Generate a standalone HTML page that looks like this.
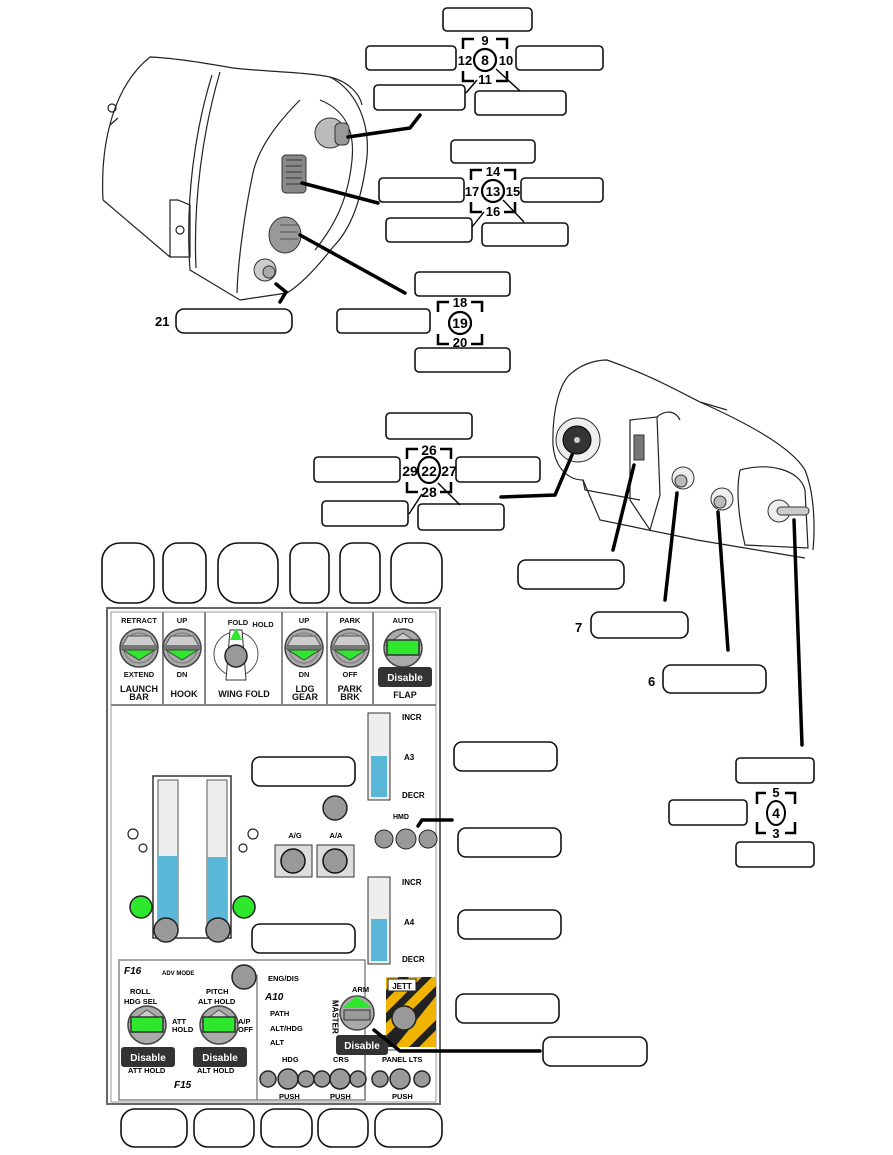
<!DOCTYPE html>
<html><head><meta charset="utf-8"><style>
html,body{margin:0;padding:0;background:#fff}
svg{display:block}
text{font-family:"Liberation Sans",sans-serif;font-weight:bold}
.b{fill:#fff;stroke:#111;stroke-width:1.6}
.ln{fill:none;stroke:#000;stroke-width:3.5;stroke-linecap:round}
.th{fill:none;stroke:#000;stroke-width:1.4}
.o{fill:none;stroke:#222;stroke-width:1.2}
</style></head><body>
<svg width="893" height="1155" viewBox="0 0 893 1155" xmlns="http://www.w3.org/2000/svg">
<defs>
<g id="cl">
<path d="M-22,-11V-21H-11M11,-21H22V-11M-22,11V21H-11M11,21H22V11" fill="none" stroke="#000" stroke-width="2.5"/>
<circle r="11" fill="#fff" stroke="#000" stroke-width="2.2"/>
</g>
<g id="knob">
<circle r="19" fill="#aaa" stroke="#444" stroke-width="1.5"/>
<circle r="15" fill="none" stroke="#777"/>
<path d="M-17,-2H17L11,-12H-11Z" fill="#ccc" stroke="#555"/>
<rect x="-18" y="-3" width="36" height="5" fill="#777"/>
<path d="M-16,2H16L0,12Z" fill="#2ee82e" stroke="#444"/>
</g>
<g id="knob2">
<circle r="19" fill="#aaa" stroke="#444" stroke-width="1.5"/>
<path d="M-17,-3L0,-15L17,-3Z" fill="#ccc" stroke="#555"/>
<rect x="-16" y="-8" width="32" height="15" fill="#2ee82e" stroke="#333" stroke-width="1.5"/>
</g>
</defs>

<!-- Top device -->
<g class="o">
<path d="M103,200 C100,140 115,85 150,57 C175,58 205,63 233,68"/>
<path d="M103,200 L170,257 M170,200 L170,257 L190,257 L190,205 L178,200 Z"/>
<path d="M212,75 C195,130 185,200 190,270 L240,300"/>
<path d="M220,72 C203,130 193,200 196,268"/>
<path d="M233,68 C270,72 305,72 330,77 C350,82 360,95 362,105"/>
<path d="M330,77 C355,90 370,120 367,157 C362,200 350,230 333,247 C315,270 300,285 287,293 L240,300"/>
<path d="M300,100 C275,125 258,150 253,173 C245,210 238,260 237,293"/>
<path d="M320,100 C345,110 355,130 352,160 C348,200 335,225 315,250"/>
<path d="M110,125 L118,118"/>
</g>
<circle cx="112" cy="108" r="4" class="o"/>
<circle cx="180" cy="230" r="4" class="o"/>
<circle cx="330" cy="133" r="15" fill="#bbb" stroke="#333"/>
<rect x="335" y="123" width="14" height="22" rx="5" fill="#999" stroke="#333"/>
<rect x="282" y="155" width="24" height="38" rx="4" fill="#888" stroke="#333"/>
<path d="M286,160H302M286,166H302M286,172H302M286,178H302M286,184H302" stroke="#333"/>
<ellipse cx="285" cy="235" rx="16" ry="18" fill="#999" stroke="#333"/>
<path d="M280,225H298M280,232H298M280,239H298" stroke="#555"/>
<circle cx="265" cy="270" r="11" fill="#ccc" stroke="#333"/>
<circle cx="269" cy="272" r="6" fill="#aaa" stroke="#333"/>

<path class="ln" d="M348,137 L410,128 L420,115"/>
<path class="ln" d="M302,183 L378,203"/>
<path class="ln" d="M300,235 L405,293"/>
<path class="ln" d="M276,284 L286,292 L280,302"/>

<!-- top labels -->
<rect class="b" x="443" y="8" width="89" height="23" rx="4"/>
<rect class="b" x="366" y="46" width="90" height="24" rx="4"/>
<rect class="b" x="516" y="46" width="87" height="24" rx="4"/>
<rect class="b" x="374" y="85" width="91" height="25" rx="4"/>
<rect class="b" x="475" y="91" width="91" height="24" rx="4"/>
<use href="#cl" x="485" y="60"/>
<text x="485" y="65" font-size="14" text-anchor="middle">8</text>
<text x="485" y="45" font-size="13" text-anchor="middle">9</text>
<text x="485" y="84" font-size="13" text-anchor="middle">11</text>
<text x="465" y="65" font-size="13" text-anchor="middle">12</text>
<text x="506" y="65" font-size="13" text-anchor="middle">10</text>
<path class="th" d="M477,80 L466,93 M496,69 L520,91"/>

<rect class="b" x="451" y="140" width="84" height="23" rx="4"/>
<rect class="b" x="379" y="178" width="85" height="24" rx="4"/>
<rect class="b" x="521" y="178" width="82" height="24" rx="4"/>
<rect class="b" x="386" y="218" width="86" height="24" rx="4"/>
<rect class="b" x="482" y="223" width="86" height="23" rx="4"/>
<use href="#cl" x="493" y="191"/>
<text x="493" y="196" font-size="13" text-anchor="middle">13</text>
<text x="493" y="176" font-size="13" text-anchor="middle">14</text>
<text x="493" y="216" font-size="13" text-anchor="middle">16</text>
<text x="472" y="196" font-size="13" text-anchor="middle">17</text>
<text x="513" y="196" font-size="13" text-anchor="middle">15</text>
<path class="th" d="M484,212 L472,227 M503,200 L524,222"/>

<rect class="b" x="415" y="272" width="95" height="24" rx="4"/>
<rect class="b" x="337" y="309" width="93" height="24" rx="4"/>
<rect class="b" x="415" y="348" width="95" height="24" rx="4"/>
<use href="#cl" x="460" y="323"/>
<text x="460" y="328" font-size="14" text-anchor="middle">19</text>
<text x="460" y="307" font-size="13" text-anchor="middle">18</text>
<text x="460" y="347" font-size="13" text-anchor="middle">20</text>

<rect class="b" x="176" y="309" width="116" height="24" rx="8"/>
<text x="155" y="326" font-size="13">21</text>

<!-- second device -->
<g class="o">
<path d="M553,445 C552,410 560,380 573,372 C585,362 600,360 607,360 C650,375 680,392 700,402 L727,410"/>
<path d="M700,402 C740,420 790,445 805,470 C815,495 815,530 813,550"/>
<path d="M553,445 C555,470 570,480 583,480 L600,520 L697,540 L805,558"/>
<path d="M583,480 L585,490 L640,500"/>
<path d="M740,470 C770,462 800,470 805,490 L808,548 L745,545 C738,515 736,490 740,470"/>
<path d="M630,420 L657,417 L660,495 L650,530 L630,500 Z"/>
<path d="M657,417 C665,410 675,410 680,420"/>
</g>
<circle cx="578" cy="440" r="22" fill="#eee" stroke="#333"/>
<circle cx="577" cy="440" r="14" fill="#333" stroke="#000"/>
<circle cx="577" cy="440" r="3" fill="#ccc"/>
<rect x="634" y="435" width="10" height="25" fill="#777" stroke="#333"/>
<circle cx="683" cy="478" r="11" fill="#eee" stroke="#333"/><circle cx="681" cy="481" r="6" fill="#bbb" stroke="#333"/>
<circle cx="722" cy="499" r="11" fill="#eee" stroke="#333"/><circle cx="720" cy="502" r="6" fill="#bbb" stroke="#333"/>
<circle cx="779" cy="511" r="11" fill="#eee" stroke="#333"/>
<rect x="777" y="507" width="32" height="8" rx="4" fill="#ccc" stroke="#333"/>

<path class="ln" d="M572,455 L555,495 L501,497"/>
<path class="ln" d="M634,465 L613,550"/>
<path class="ln" d="M677,493 L665,600"/>
<path class="ln" d="M718,512 L728,650"/>
<path class="ln" d="M794,520 L802,745"/>

<rect class="b" x="386" y="413" width="86" height="26" rx="4"/>
<rect class="b" x="314" y="457" width="86" height="25" rx="4"/>
<rect class="b" x="456" y="457" width="84" height="25" rx="4"/>
<rect class="b" x="322" y="501" width="86" height="25" rx="4"/>
<rect class="b" x="418" y="504" width="86" height="26" rx="4"/>
<path d="M407,459V449H418M440,449H451V459M407,482V492H418M440,492H451V482" fill="none" stroke="#000" stroke-width="2.5"/>
<ellipse cx="429" cy="470" rx="11" ry="13" fill="#fff" stroke="#000" stroke-width="2.2"/>
<text x="429" y="476" font-size="14" text-anchor="middle">22</text>
<text x="429" y="455" font-size="14" text-anchor="middle">26</text>
<text x="429" y="497" font-size="14" text-anchor="middle">28</text>
<text x="410" y="476" font-size="14" text-anchor="middle">29</text>
<text x="449" y="476" font-size="14" text-anchor="middle">27</text>
<path class="th" d="M422,494 L409,514 M438,483 L460,505"/>

<rect class="b" x="518" y="560" width="106" height="29" rx="8"/>
<rect class="b" x="591" y="612" width="97" height="26" rx="8"/>
<text x="575" y="632" font-size="13">7</text>
<rect class="b" x="663" y="665" width="103" height="28" rx="8"/>
<text x="648" y="686" font-size="13">6</text>

<rect class="b" x="736" y="758" width="78" height="25" rx="4"/>
<rect class="b" x="669" y="800" width="78" height="25" rx="4"/>
<rect class="b" x="736" y="842" width="78" height="25" rx="4"/>
<path d="M757,804V793H766M785,793H795V804M757,822V833H766M785,833H795V822" fill="none" stroke="#000" stroke-width="2.5"/>
<ellipse cx="776" cy="813" rx="9" ry="12" fill="#fff" stroke="#000" stroke-width="2"/>
<text x="776" y="818" font-size="14" text-anchor="middle">4</text>
<text x="776" y="797" font-size="13" text-anchor="middle">5</text>
<text x="776" y="838" font-size="13" text-anchor="middle">3</text>

<!-- panel ovals -->
<g class="b" stroke-width="2">
<rect x="102" y="543" width="52" height="60" rx="18"/>
<rect x="163" y="543" width="43" height="60" rx="15"/>
<rect x="218" y="543" width="60" height="60" rx="20"/>
<rect x="290" y="543" width="39" height="60" rx="13"/>
<rect x="340" y="543" width="40" height="60" rx="13"/>
<rect x="391" y="543" width="51" height="60" rx="18"/>
<rect x="121" y="1109" width="66" height="38" rx="14"/>
<rect x="194" y="1109" width="60" height="38" rx="14"/>
<rect x="261" y="1109" width="51" height="38" rx="14"/>
<rect x="318" y="1109" width="50" height="38" rx="14"/>
<rect x="375" y="1109" width="67" height="38" rx="14"/>
</g>

<!-- panel -->
<rect x="107" y="608" width="333" height="496" fill="#fff" stroke="#666" stroke-width="2"/>
<rect x="111" y="612" width="325" height="490" fill="none" stroke="#999"/>
<path d="M111,705H436 M163,612V705 M205,612V705 M282,612V705 M327,612V705 M373,612V705" stroke="#888" stroke-width="2"/>
<g font-size="7.5" text-anchor="middle" fill="#111">
<text x="139" y="623">RETRACT</text><text x="182" y="623">UP</text><text x="304" y="623">UP</text><text x="350" y="623">PARK</text><text x="403" y="623">AUTO</text>
<text x="139" y="677">EXTEND</text><text x="182" y="677">DN</text><text x="304" y="677">DN</text><text x="350" y="677">OFF</text>
<text x="139" y="692" font-size="9">LAUNCH</text><text x="139" y="700" font-size="9">BAR</text>
<text x="184" y="697" font-size="9">HOOK</text><text x="244" y="697" font-size="9">WING FOLD</text>
<text x="305" y="692" font-size="9">LDG</text><text x="305" y="700" font-size="9">GEAR</text>
<text x="350" y="692" font-size="9">PARK</text><text x="350" y="700" font-size="9">BRK</text>
<text x="405" y="698" font-size="9">FLAP</text>
<text x="238" y="625">FOLD</text><text x="263" y="627">HOLD</text>
</g>
<use href="#knob" x="139" y="648"/><use href="#knob" x="182" y="648"/>
<use href="#knob" x="304" y="648"/><use href="#knob" x="350" y="648"/>
<use href="#knob2" x="403" y="648"/>
<circle cx="236" cy="654" r="22" fill="none" stroke="#555"/>
<path d="M230,630L242,630L246,680L226,680Z" fill="#fff" stroke="#333"/>
<path d="M236,628L242,640H230Z" fill="#2ee82e"/>
<circle cx="236" cy="656" r="11" fill="#999" stroke="#222" stroke-width="1.5"/>
<rect x="378" y="667" width="54" height="20" rx="3" fill="#333"/>
<text x="405" y="681" font-size="10" fill="#fff" text-anchor="middle" font-weight="normal">Disable</text>

<!-- middle -->
<rect x="153" y="776" width="78" height="162" fill="#fff" stroke="#333" stroke-width="1.5"/>
<rect x="158" y="780" width="20" height="153" fill="#eee" stroke="#555"/>
<rect x="158" y="856" width="20" height="77" fill="#5bb7d8"/>
<rect x="207" y="780" width="20" height="153" fill="#eee" stroke="#555"/>
<rect x="207" y="857" width="20" height="76" fill="#5bb7d8"/>
<circle cx="166" cy="930" r="12" fill="#999" stroke="#222" stroke-width="1.5"/>
<circle cx="218" cy="930" r="12" fill="#999" stroke="#222" stroke-width="1.5"/>
<circle cx="141" cy="907" r="11" fill="#2ee82e" stroke="#222" stroke-width="1.5"/>
<circle cx="244" cy="907" r="11" fill="#2ee82e" stroke="#222" stroke-width="1.5"/>
<circle cx="133" cy="834" r="5" class="o"/><circle cx="143" cy="848" r="4" class="o"/>
<circle cx="253" cy="834" r="5" class="o"/><circle cx="243" cy="848" r="4" class="o"/>
<rect class="b" x="252" y="757" width="103" height="29" rx="8"/>
<rect class="b" x="252" y="924" width="103" height="29" rx="8"/>
<circle cx="335" cy="808" r="12" fill="#999" stroke="#222" stroke-width="1.5"/>
<text x="295" y="838" font-size="7.5" text-anchor="middle">A/G</text><text x="336" y="838" font-size="7.5" text-anchor="middle">A/A</text>
<rect x="275" y="845" width="37" height="32" fill="#ddd" stroke="#333"/>
<rect x="317" y="845" width="37" height="32" fill="#ddd" stroke="#333"/>
<circle cx="293" cy="861" r="12" fill="#999" stroke="#111" stroke-width="1.5"/>
<circle cx="335" cy="861" r="12" fill="#999" stroke="#111" stroke-width="1.5"/>
<rect x="368" y="713" width="22" height="87" fill="#eee" stroke="#333"/>
<rect x="371" y="756" width="16" height="41" fill="#5bb7d8"/>
<rect x="368" y="877" width="22" height="87" fill="#eee" stroke="#333"/>
<rect x="371" y="919" width="16" height="42" fill="#5bb7d8"/>
<g font-size="8"><text x="402" y="720">INCR</text><text x="404" y="760">A3</text><text x="402" y="798">DECR</text>
<text x="402" y="885">INCR</text><text x="404" y="925">A4</text><text x="402" y="962">DECR</text>
<text x="393" y="819" font-size="7">HMD</text></g>
<circle cx="384" cy="839" r="9" fill="#999" stroke="#222"/><circle cx="406" cy="839" r="10" fill="#999" stroke="#222"/><circle cx="428" cy="839" r="9" fill="#999" stroke="#222"/>
<path class="ln" d="M418,826 L422,820 L452,820" stroke-width="3"/>
<rect class="b" x="454" y="742" width="103" height="29" rx="8"/>
<rect class="b" x="458" y="828" width="103" height="29" rx="8"/>
<rect class="b" x="458" y="910" width="103" height="29" rx="8"/>
<rect class="b" x="456" y="994" width="103" height="29" rx="8"/>
<rect class="b" x="543" y="1037" width="104" height="29" rx="8"/>

<!-- lower panel -->
<rect x="119" y="960" width="246" height="140" fill="none" stroke="#888" stroke-width="1.5"/>
<path d="M257,975V1100 M365,1050H436 M365,1050V1100" stroke="#888" stroke-width="1.5"/>
<text x="124" y="974" font-size="10" font-style="italic">F16</text>
<text x="162" y="975" font-size="6">ADV MODE</text>
<circle cx="244" cy="977" r="12" fill="#999" stroke="#222" stroke-width="1.5"/>
<g font-size="7.5"><text x="268" y="981">ENG/DIS</text><text x="265" y="1000" font-size="10" font-style="italic">A10</text>
<text x="270" y="1016">PATH</text><text x="270" y="1031">ALT/HDG</text><text x="270" y="1045">ALT</text>
<text x="130" y="994">ROLL</text><text x="124" y="1004">HDG SEL</text><text x="206" y="994">PITCH</text><text x="198" y="1004">ALT HOLD</text>
<text x="172" y="1024">ATT</text><text x="172" y="1032">HOLD</text><text x="238" y="1024">A/P</text><text x="238" y="1032">OFF</text>
<text x="282" y="1062">HDG</text><text x="333" y="1062">CRS</text><text x="382" y="1062">PANEL LTS</text>
<text x="279" y="1099">PUSH</text><text x="330" y="1099">PUSH</text><text x="392" y="1099">PUSH</text>
<text x="352" y="992">ARM</text><text x="128" y="1073">ATT HOLD</text><text x="197" y="1073">ALT HOLD</text>
<text x="174" y="1088" font-size="10" font-style="italic">F15</text></g>
<text x="335" y="1000" font-size="8" writing-mode="tb">MASTER</text>
<use href="#knob2" x="147" y="1025"/><use href="#knob2" x="219" y="1025"/>
<circle cx="357" cy="1013" r="17" fill="#aaa" stroke="#444" stroke-width="1.5"/>
<path d="M342,1008L357,996L372,1008Z" fill="#2ee82e"/>
<rect x="344" y="1010" width="26" height="10" fill="#999" stroke="#333"/>
<rect x="386" y="977" width="50" height="70" fill="#f0b400"/>
<path d="M386,990L399,977H409L386,1000ZM386,1013L422,977H432L386,1023ZM386,1036L436,986V996L395,1047H386ZM409,1047L436,1020V1030L419,1047Z" fill="#222"/>
<rect x="388" y="979" width="28" height="12" fill="#fff" stroke="#222"/>
<text x="402" y="989" font-size="8" text-anchor="middle">JETT</text>
<circle cx="404" cy="1018" r="12" fill="#999" stroke="#222" stroke-width="1.5"/>
<rect x="121" y="1047" width="54" height="20" rx="3" fill="#333"/>
<text x="148" y="1061" font-size="10" fill="#fff" text-anchor="middle" font-weight="normal">Disable</text>
<rect x="193" y="1047" width="54" height="20" rx="3" fill="#333"/>
<text x="220" y="1061" font-size="10" fill="#fff" text-anchor="middle" font-weight="normal">Disable</text>
<rect x="336" y="1035" width="52" height="20" rx="3" fill="#333"/>
<text x="362" y="1049" font-size="10" fill="#fff" text-anchor="middle" font-weight="normal">Disable</text>
<path class="ln" d="M374,1030 L400,1051 L540,1051" stroke-width="3"/>
<g fill="#999" stroke="#222" stroke-width="1.5">
<circle cx="268" cy="1079" r="8"/><circle cx="288" cy="1079" r="10"/><circle cx="306" cy="1079" r="8"/>
<circle cx="322" cy="1079" r="8"/><circle cx="340" cy="1079" r="10"/><circle cx="358" cy="1079" r="8"/>
<circle cx="380" cy="1079" r="8"/><circle cx="400" cy="1079" r="10"/><circle cx="422" cy="1079" r="8"/>
</g>
</svg>
</body></html>
